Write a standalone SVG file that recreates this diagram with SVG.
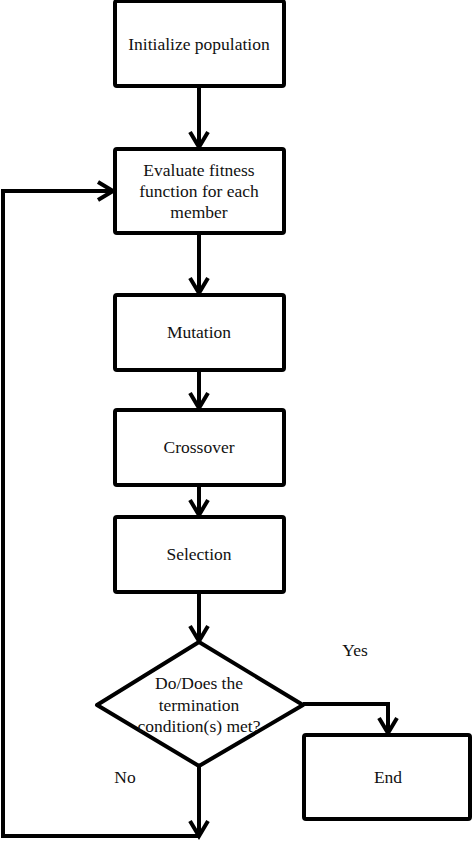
<svg xmlns="http://www.w3.org/2000/svg" width="474" height="843" viewBox="0 0 474 843">
<style>
.box{fill:#fff;stroke:#000;stroke-width:4;stroke-linejoin:round}
.ln{fill:none;stroke:#000;stroke-width:4;stroke-linejoin:miter}
text{font-family:"Liberation Serif","Times New Roman",serif;font-size:17.5px;fill:#111;text-anchor:middle}
</style>
<defs>
<marker id="ah" markerUnits="userSpaceOnUse" markerWidth="30" markerHeight="30" viewBox="-20 -15 25 30" refX="0" refY="0" orient="auto" overflow="visible">
<path d="M-15,-9 L0,0 L-15,9" fill="none" stroke="#000" stroke-width="4" stroke-linejoin="miter"/>
</marker>
</defs>
<rect width="474" height="843" fill="#fff"/>
<g id="connectors">
<line class="ln" x1="199" y1="87" x2="199" y2="147" marker-end="url(#ah)"/>
<line class="ln" x1="199" y1="233" x2="199" y2="293" marker-end="url(#ah)"/>
<line class="ln" x1="199" y1="370" x2="199" y2="408" marker-end="url(#ah)"/>
<line class="ln" x1="199" y1="485" x2="199" y2="515" marker-end="url(#ah)"/>
<line class="ln" x1="199" y1="592" x2="199" y2="641" marker-end="url(#ah)"/>
<polyline class="ln" points="303,704 388,704 388,733" marker-end="url(#ah)"/>
<line class="ln" x1="199" y1="765" x2="199" y2="836" marker-end="url(#ah)"/>
<polyline class="ln" points="199,836 3,836 3,191 113,191" marker-end="url(#ah)"/>
</g>
<g id="init">
<rect class="box" x="115" y="1" width="169" height="85" rx="2"/>
<text x="199" y="50">Initialize population</text>
</g>
<g id="evaluate">
<rect class="box" x="115" y="149" width="169" height="84" rx="2"/>
<text x="199" y="176">Evaluate fitness</text>
<text x="199" y="197">function for each</text>
<text x="199" y="218">member</text>
</g>
<g id="mutation">
<rect class="box" x="115" y="295" width="169" height="75" rx="2"/>
<text x="199" y="338">Mutation</text>
</g>
<g id="crossover">
<rect class="box" x="115" y="410" width="169" height="75" rx="2"/>
<text x="199" y="453">Crossover</text>
</g>
<g id="selection">
<rect class="box" x="115" y="517" width="169" height="75" rx="2"/>
<text x="199" y="560">Selection</text>
</g>
<g id="decision">
<polygon class="box" points="199,642 303,705 199,766 97,705"/>
<text x="199" y="689">Do/Does the</text>
<text x="199" y="711">termination</text>
<text x="199" y="732">condition(s) met?</text>
</g>
<g id="end">
<rect class="box" x="304" y="735" width="166" height="84" rx="2"/>
<text x="388" y="783">End</text>
</g>
<g id="labels">
<text x="355" y="656">Yes</text>
<text x="125" y="783">No</text>
</g>
</svg>
